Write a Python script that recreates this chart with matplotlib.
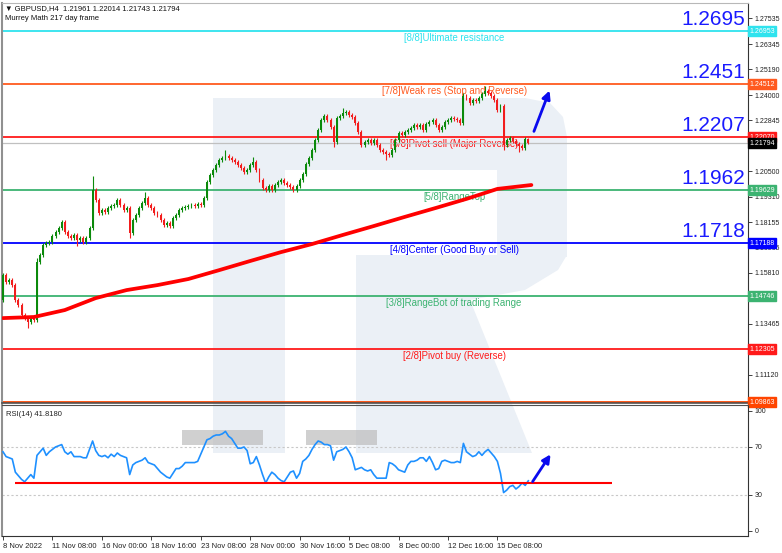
import matplotlib
matplotlib.use("Agg")
import matplotlib.pyplot as plt
from matplotlib.patches import Polygon, Rectangle
import matplotlib.transforms as mtransforms

plt.rcParams['font.family'] = ['Liberation Sans', 'DejaVu Sans']

# --- data (GBPUSD H4) ---
first_open = 1.1456
closes = [1.1572, 1.1539, 1.1548, 1.1525, 1.1456, 1.1433, 1.1387, 1.1373, 1.1355, 1.1373,
          1.1364, 1.1631, 1.1664, 1.1710, 1.1719, 1.1724, 1.1751, 1.1770, 1.1788, 1.1816,
          1.1770, 1.1751, 1.1742, 1.1756, 1.1733, 1.1742, 1.1724, 1.1742, 1.1788, 1.1963,
          1.1917, 1.1857, 1.1871, 1.1862, 1.1880, 1.1889, 1.1894, 1.1917, 1.1894, 1.1871,
          1.1880, 1.1765, 1.1825, 1.1848, 1.1880, 1.1903, 1.1926, 1.1894, 1.1880, 1.1857,
          1.1848, 1.1825, 1.1802, 1.1811, 1.1797, 1.1834, 1.1848, 1.1871, 1.1880, 1.1885,
          1.1889, 1.1894, 1.1889, 1.1898, 1.1894, 1.1926, 1.2000, 1.2032, 1.2055, 1.2078,
          1.2101, 1.2110, 1.2120, 1.2110, 1.2101, 1.2092, 1.2078, 1.2064, 1.2046, 1.2055,
          1.2078, 1.2092, 1.2055, 1.2009, 1.1972, 1.1963, 1.1981, 1.1963, 1.1986, 1.2000,
          1.2009, 1.1995, 1.1986, 1.1977, 1.1963, 1.1981, 1.2009, 1.2037, 1.2083, 1.2110,
          1.2147, 1.2193, 1.2239, 1.2285, 1.2304, 1.2285, 1.2253, 1.2184, 1.2295, 1.2304,
          1.2318, 1.2322, 1.2308, 1.2299, 1.2272, 1.2230, 1.2170, 1.2184, 1.2193, 1.2179,
          1.2193, 1.2170, 1.2147, 1.2138, 1.2129, 1.2124, 1.2147, 1.2193, 1.2226, 1.2216,
          1.2230, 1.2239, 1.2249, 1.2262, 1.2253, 1.2262, 1.2239, 1.2267, 1.2276, 1.2285,
          1.2262, 1.2239, 1.2253, 1.2276, 1.2285, 1.2295, 1.2292, 1.2285, 1.2272, 1.2396,
          1.2387, 1.2364, 1.2377, 1.2373, 1.2387, 1.2405, 1.2419, 1.2410, 1.2396, 1.2377,
          1.2331, 1.2350, 1.2170, 1.2193, 1.2202, 1.2189, 1.2175, 1.2166, 1.2156, 1.2196,
          1.21794]
wick_high = {11: 1.1650, 29: 1.2026, 46: 1.1954, 72: 1.2147, 81: 1.2115,
             110: 1.2341, 149: 1.2410, 156: 1.2442, 170: 1.22014}
wick_low = {8: 1.1327, 24: 1.1706, 41: 1.1742, 107: 1.2160, 124: 1.2101,
            162: 1.2147, 167: 1.2138, 170: 1.21743}
wick_default = 0.0009

ma_bars = [0, 10, 20, 30, 40, 50, 60, 70, 80, 90, 100, 110, 120, 130, 140, 150, 160, 171]
ma_vals = [1.1373, 1.1378, 1.1410, 1.1465, 1.1502, 1.1525, 1.1553, 1.1594, 1.1636,
           1.1677, 1.1714, 1.1756, 1.1797, 1.1839, 1.1880, 1.1922, 1.1968, 1.1986]

rsi = [66, 62, 61, 60, 49, 46, 43, 41, 44, 47,
       44, 63, 66, 69, 63, 66, 68, 70, 71, 72,
       66, 64, 66, 62, 62, 62, 61, 61, 68, 75,
       67, 63, 62, 63, 61, 64, 62, 65, 63, 62,
       61, 47, 55, 57, 58, 59, 61, 57, 56, 55,
       52, 49, 47, 45, 44, 48, 52, 52, 54, 57,
       57, 57, 57, 58, 64, 70, 76, 77, 79, 80,
       80, 81, 83, 79, 77, 73, 69, 69, 70, 67,
       56, 57, 62, 55, 47, 40, 45, 49, 47, 44,
       42, 41, 45, 49, 50, 44, 48, 58, 60, 63,
       68, 72, 75, 74, 72, 72, 71, 59, 66, 67,
       68, 70, 66, 61, 51, 52, 53, 51, 50, 51,
       47, 44, 44, 44, 44, 57, 56, 54, 51, 50,
       49, 55, 58, 58, 59, 61, 61, 58, 62, 57,
       51, 52, 58, 59, 58, 57, 57, 58, 57, 73,
       66, 64, 62, 63, 66, 63, 66, 68, 65, 62,
       58, 48, 32, 34, 37, 38, 35, 37, 40, 38,
       41.818]

levels = [1.26953, 1.24512, 1.22070, 1.19629, 1.17188, 1.14746, 1.12305, 1.09863]
level_names = ['[8/8]Ultimate resistance', '[7/8]Weak res (Stop and Reverse)',
               '[6/8]Pivot sell (Major Reverse)', '[5/8]RangeTop',
               '[4/8]Center (Good Buy or Sell)', '[3/8]RangeBot of trading Range',
               '[2/8]Pivot buy (Reverse)', '']
level_colors = ['#2fe3ee', '#ff5a1f', '#ff1a1a', '#3cb371', '#0000ff', '#3cb371',
                '#ff1a1a', '#ff4500']
big_labels = ['1.2695', '1.2451', '1.2207', '1.1962', '1.1718']
last_price = 1.21794

price_ticks = [1.27535, 1.26345, 1.25190, 1.24000, 1.22845, 1.21690, 1.20500, 1.19310,
               1.18155, 1.16965, 1.15810, 1.14620, 1.13465, 1.12275, 1.11120, 1.09930]
# these four sit under the coloured level boxes and are not readable
hidden_ticks = [1.21690, 1.14620, 1.12275, 1.09930]
date_pos = [0, 16, 32, 48, 64, 80, 96, 112, 128, 144, 160]
date_labels = ['8 Nov 2022', '11 Nov 08:00', '16 Nov 00:00', '18 Nov 16:00',
               '23 Nov 08:00', '28 Nov 00:00', '30 Nov 16:00', '5 Dec 08:00',
               '8 Dec 00:00', '12 Dec 16:00', '15 Dec 08:00']

rsi_support = 40.2
rsi_support_span = (3.9, 197)
box_start = [58, 98]
box_end = [84, 121]
box_low, box_high = 71.7, 84.2

price_arrow = ((171.5, 1.2221), (177.2, 1.2433))
rsi_arrow = ((170.9, 39.2), (177.7, 65.8))

# --- figure ---
W, H = 782, 553
fig = plt.figure(figsize=(W / 100, H / 100), dpi=100, facecolor='white')

# faint logo watermark behind everything (figure pixel coords)
wm = fig.add_axes([0, 0, 1, 1], zorder=0)
wm.set_xlim(0, W)
wm.set_ylim(H, 0)
wm.axis('off')
wm_col = '#ebf0f6'
wm.add_patch(Rectangle((213, 98), 72, 355, color=wm_col, lw=0))
wm.add_patch(Polygon([(285, 98), (525, 98), (550, 103), (563, 117), (567, 137),
                      (567, 170), (285, 170)], color=wm_col, lw=0))
wm.add_patch(Rectangle((497, 169), 70, 88, color=wm_col, lw=0))
wm.add_patch(Polygon([(356, 255), (567, 255), (558, 270), (525, 290), (470, 300),
                      (532, 453), (356, 453)], color=wm_col, lw=0))

left, right = 2 / W, 748 / W
ax = fig.add_axes([left, (H - 403) / H, right - left, 400 / H], zorder=1)
ax2 = fig.add_axes([left, (H - 536) / H, right - left, 131 / H], zorder=1)
for a in (ax, ax2):
    a.set_facecolor('none')
    a.set_xlim(-0.32, 241.1)

ax.set_ylim(1.28243 - 0.0004606 * 400, 1.28243)

# murrey levels
trans = mtransforms.blended_transform_factory(ax.transAxes, ax.transData)
for lvl, name, col in zip(levels, level_names, level_colors):
    lw = 2.0 if lvl == levels[-1] else 1.3
    ax.axhline(lvl, color=col, lw=lw, zorder=2)
    if name:
        ax.annotate(name, xy=(0.606, lvl), xycoords=trans, xytext=(0, -1.5),
                    textcoords='offset points', ha='center', va='top', fontsize=6.9,
                    color=col, zorder=2)
for lvl, lab in zip(levels[:5], big_labels):
    ax.annotate(lab, xy=(0.9966, lvl), xycoords=trans, xytext=(0, 1.5),
                textcoords='offset points', ha='right', va='bottom', fontsize=15,
                color='#1a1aff', zorder=6)
ax.axhline(last_price, color='#c0c0c0', lw=0.9, zorder=2)

# candles
opens = [first_open] + closes[:-1]
for i, (o, c) in enumerate(zip(opens, closes)):
    up = c >= o
    col = '#0b8a0b' if up else '#f21d1d'
    hi = wick_high.get(i, max(o, c) + wick_default)
    lo = wick_low.get(i, min(o, c) - wick_default)
    ax.vlines(i, lo, hi, color=col, lw=0.8, zorder=4)
    body = max(abs(c - o), 0.0003)
    ax.bar(i, body, bottom=min(o, c), width=0.62, color=col, lw=0, zorder=4)

ax.plot(ma_bars, ma_vals, color='#ff0000', lw=2.7, solid_capstyle='round', zorder=5)

ax.annotate('', xy=price_arrow[1], xytext=price_arrow[0],
            arrowprops=dict(arrowstyle='-|>', color='#0a0aee', lw=2, mutation_scale=12),
            zorder=7)

# price axis on the right
ax.yaxis.tick_right()
ax.set_yticks(price_ticks)
ax.set_yticklabels(['' if t in hidden_ticks else f'{t:.5f}' for t in price_ticks])
ax.tick_params(axis='y', labelsize=5, length=3, width=0.6, pad=2, colors='#222')
ax.tick_params(axis='x', bottom=False, labelbottom=False)
for lvl, col in zip(levels + [last_price], level_colors + ['#000000']):
    ax.text(1.0015, lvl, f'{lvl:.5f}', transform=trans, ha='left', va='center',
            fontsize=5, color='white', zorder=8, clip_on=False,
            bbox=dict(boxstyle='square,pad=0.2', fc=col, ec=col))

ax.spines['left'].set_color('#909090')
ax.spines['left'].set_linewidth(1.5)
ax.spines['top'].set_color('#b8b8b8')
ax.spines['right'].set_color('#333333')
ax.spines['bottom'].set_color('#505050')
ax.spines['bottom'].set_linewidth(1.2)

# RSI panel
ax2.set_ylim(-4.2, 105)
ax2.plot(range(len(rsi)), rsi, color='#1e90ff', lw=1.2, zorder=4)
for lvl in (70, 30):
    ax2.axhline(lvl, color='#c8c8c8', lw=0.8, ls=(0, (2, 2)), zorder=2)
ax2.hlines(rsi_support, *rsi_support_span, color='#ff0000', lw=1.5, zorder=5)
for s, e in zip(box_start, box_end):
    ax2.add_patch(Rectangle((s, box_low), e - s, box_high - box_low,
                            color='#bcbcbc', alpha=0.7, lw=0, zorder=3))
ax2.annotate('', xy=rsi_arrow[1], xytext=rsi_arrow[0],
             arrowprops=dict(arrowstyle='-|>', color='#0a0aee', lw=2, mutation_scale=12),
             zorder=7)
ax2.text(0.006, 0.93, 'RSI(14) 41.8180', transform=ax2.transAxes, fontsize=5.5,
         ha='left', va='center', color='#222')

ax2.yaxis.tick_right()
ax2.set_yticks([0, 30, 70, 100])
ax2.tick_params(axis='y', labelsize=5, length=3, width=0.6, pad=2, colors='#222')
ax2.set_xticks(date_pos)
ax2.set_xticklabels(date_labels, ha='left')
ax2.tick_params(axis='x', labelsize=5.5, length=3, width=0.6, pad=2, colors='#222')
ax2.spines['left'].set_color('#909090')
ax2.spines['left'].set_linewidth(1.5)
ax2.spines['top'].set_color('#505050')
ax2.spines['right'].set_color('#333333')
ax2.spines['bottom'].set_color('#333333')

# header
fig.text(5 / W, 1 - 9 / H, '\u25bc GBPUSD,H4  1.21961 1.22014 1.21743 1.21794',
         fontsize=5.5, ha='left', va='center', color='#111')
fig.text(5 / W, 1 - 19 / H, 'Murrey Math 217 day frame', fontsize=5.5,
         ha='left', va='center', color='#111')

fig.savefig('out.png', dpi=100, facecolor='white')
